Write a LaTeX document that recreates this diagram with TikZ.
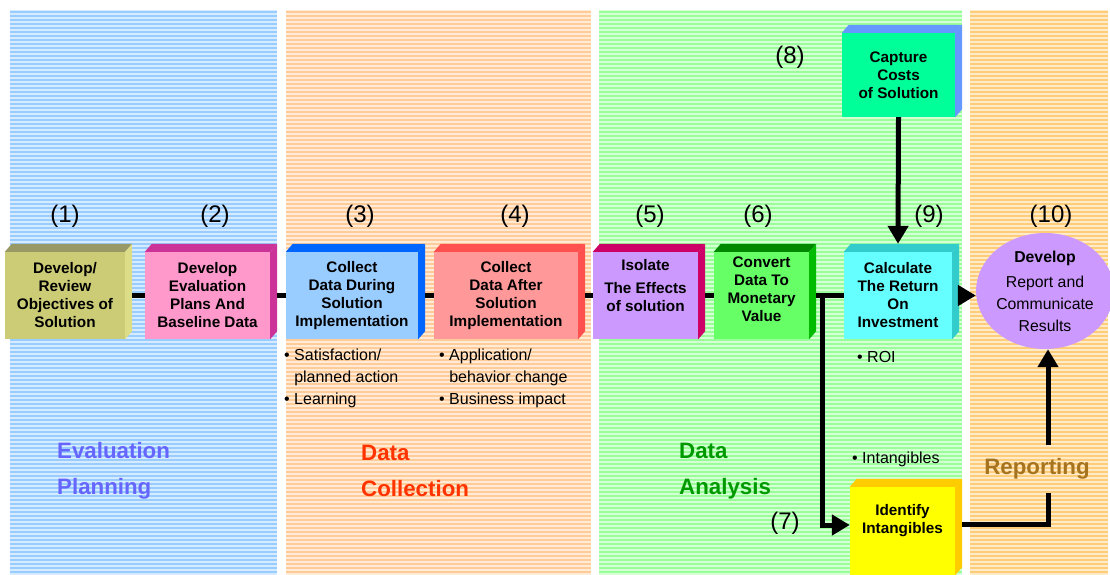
\documentclass[tikz,border=0pt]{standalone}
\usepackage{fontspec}
\setmainfont{Liberation Sans}
\usetikzlibrary{arrows.meta,shapes.geometric}
\definecolor{planpanel}{HTML}{99CCFF}
\definecolor{collpanel}{HTML}{FFCC99}
\definecolor{anapanel}{HTML}{99FF99}
\definecolor{reppanel}{HTML}{FFCC77}
\definecolor{objfront}{HTML}{CCCC77}
\definecolor{objtop}{HTML}{999966}
\definecolor{objside}{HTML}{DDDD88}
\definecolor{planfront}{HTML}{FF99CC}
\definecolor{plantop}{HTML}{CC3399}
\definecolor{durfront}{HTML}{99CCFF}
\definecolor{durtop}{HTML}{0066FF}
\definecolor{aftfront}{HTML}{FF9999}
\definecolor{afttop}{HTML}{FF5050}
\definecolor{isofront}{HTML}{CC99FF}
\definecolor{isotop}{HTML}{CC0066}
\definecolor{convfront}{HTML}{66FF66}
\definecolor{convtop}{HTML}{008800}
\definecolor{convside}{HTML}{00BB00}
\definecolor{captfront}{HTML}{00FF99}
\definecolor{capttop}{HTML}{6699FF}
\definecolor{calcfront}{HTML}{66FFFF}
\definecolor{calctop}{HTML}{33CCCC}
\definecolor{identfront}{HTML}{FFFF00}
\definecolor{identtop}{HTML}{FFCC00}
\definecolor{reportfill}{HTML}{CC99FF}
\definecolor{evalblue}{HTML}{6666FF}
\definecolor{collred}{HTML}{FF3300}
\definecolor{anagreen}{HTML}{009900}
\definecolor{repbrown}{HTML}{A6731F}

\begin{document}
\begin{tikzpicture}[x=1pt,y=-1pt]
	\tikzset{
		flow line/.style={line width=5pt},
		flow arrow/.style={flow line, -{Triangle[length=18pt,width=20pt]}},
		cube front/.style={minimum height=87pt, inner sep=0pt, align=center, font=\bfseries\fontsize{15.3}{18}\selectfont},
		step number/.style={font=\fontsize{24}{28}\selectfont},
		note text/.style={font=\fontsize{16}{22}\selectfont, align=left, anchor=west, inner sep=0pt},
		phase title/.style={font=\bfseries\fontsize{22.3}{36}\selectfont, align=left, anchor=west, inner sep=0pt}
	}
	\useasboundingbox (0,0) rectangle (1110,575);

	\foreach \xa/\xb/\col in {10/277/planpanel, 286/591/collpanel, 599/962/anapanel, 970/1108/reppanel}{
		\fill[\col!40] (\xa,10) rectangle (\xb,575);
		\foreach \y in {12,16,...,572}
			\draw[\col, line width=1.6pt] (\xa,\y) -- (\xb,\y);
	}

	\node[cube front, fill=objfront, minimum width=120pt] (obj) at (65,295.5) {Develop/\\Review\\Objectives of\\Solution};
	\node[cube front, fill=planfront, minimum width=125pt] (plan) at (207.5,295.5) {Develop\\Evaluation\\Plans And\\Baseline Data};
	\node[cube front, fill=durfront, minimum width=132pt] (during) at (352,295.5) {Collect\\Data During\\Solution\\Implementation};
	\node[cube front, fill=aftfront, minimum width=144pt] (after) at (506,295.5) {Collect\\Data After\\Solution\\Implementation};
	\node[cube front, fill=isofront, minimum width=105pt] (isolate) at (645.5,295.5) {Isolate\\[5pt]The Effects\\of solution\\[-4pt]\strut};
	\node[cube front, fill=convfront, minimum width=95pt] (conv) at (761.5,295.5) {Convert\\Data To\\Monetary\\Value\\[-10pt]\strut};
	\node[cube front, fill=calcfront, minimum width=108pt] (calc) at (898,295.5) {Calculate\\The Return\\On\\Investment};
	\node[cube front, fill=captfront, minimum width=113pt, minimum height=84pt] (capt) at (898.5,75) {Capture\\Costs\\of Solution};
	\node[cube front, fill=identfront, minimum width=105pt, minimum height=88pt] (ident) at (902.5,531) {Identify\\Intangibles\\\strut};

	\foreach \n/\tc/\sc in {obj/objtop/objside, plan/plantop/plantop, during/durtop/durtop, after/afttop/afttop, isolate/isotop/isotop, conv/convtop/convside, calc/calctop/calctop, capt/capttop/capttop, ident/identtop/identtop}{
		\fill[\tc] (\n.north west) -- ++(7,-8) -- ([shift={(7,-8)}]\n.north east) -- (\n.north east) -- cycle;
		\fill[\sc] (\n.north east) -- ++(7,-8) -- ([shift={(7,-8)}]\n.south east) -- (\n.south east) -- cycle;
	}

	\node[ellipse, fill=reportfill, minimum width=128pt, minimum height=116pt, inner sep=0pt, align=center, font=\fontsize{15.8}{22}\selectfont] (report) at (1045,291) {\textbf{Develop}\\[3pt]Report and\\Communicate\\Results};

	\draw[flow line] ([xshift=7pt]obj.east) -- (plan.west);
	\draw[flow line] ([xshift=7pt]plan.east) -- (during.west);
	\draw[flow line] ([xshift=7pt]during.east) -- (after.west);
	\draw[flow line] ([xshift=7pt]after.east) -- (isolate.west);
	\draw[flow line] ([xshift=7pt]isolate.east) -- (conv.west);
	\draw[flow line] ([xshift=7pt]conv.east) -- (calc.west);
	\coordinate (split) at (822,295.5);
	\draw[flow arrow] (split) |- ([yshift=6pt]ident.west);
	\draw[flow arrow] (capt.south) -- ([yshift=8pt]calc.north);
	\draw[flow arrow] ([xshift=7pt]calc.east) -- (report.west |- calc.east);

	\node[step number] (n1) at (65,216) {(1)};
	\node[step number] (n2) at (215,216) {(2)};
	\node[step number] (n3) at (360,216) {(3)};
	\node[step number] (n4) at (515,216) {(4)};
	\node[step number] (n5) at (650,216) {(5)};
	\node[step number] (n6) at (758,216) {(6)};
	\node[step number] (n7) at (785,523) {(7)};
	\node[step number] (n8) at (790,57) {(8)};
	\node[step number] (n9) at (929,216) {(9)};
	\node[step number] (n10) at (1051,216) {(10)};

	\node[note text] (during notes) at (284,378) {• Satisfaction/\\\phantom{• }planned action\\• Learning};
	\node[note text] (after notes) at (439,378) {• Application/\\\phantom{• }behavior change\\• Business impact};
	\node[note text] (roi note) at (857,357) {• ROI};
	\node[note text] (intang note) at (852,459) {• Intangibles};

	\node[phase title, text=evalblue] (eval title) at (57,471) {Evaluation\\Planning};
	\node[phase title, text=collred] (coll title) at (361,471) {Data\\Collection};
	\node[phase title, text=anagreen] (ana title) at (679,471) {Data\\Analysis};
	\node[font=\bfseries\fontsize{22.3}{26}\selectfont, text=repbrown, inner xsep=2pt, inner ysep=13pt] (rep title) at (1037,469) {Reporting};

	\coordinate (turn) at (1048,524);
	\draw[flow line] ([shift={(7,-7)}]ident.east) -- (turn) -- (turn |- rep title.south);
	\draw[flow arrow] (turn |- rep title.north) -- (turn |- report.south);
\end{tikzpicture}
\end{document}
